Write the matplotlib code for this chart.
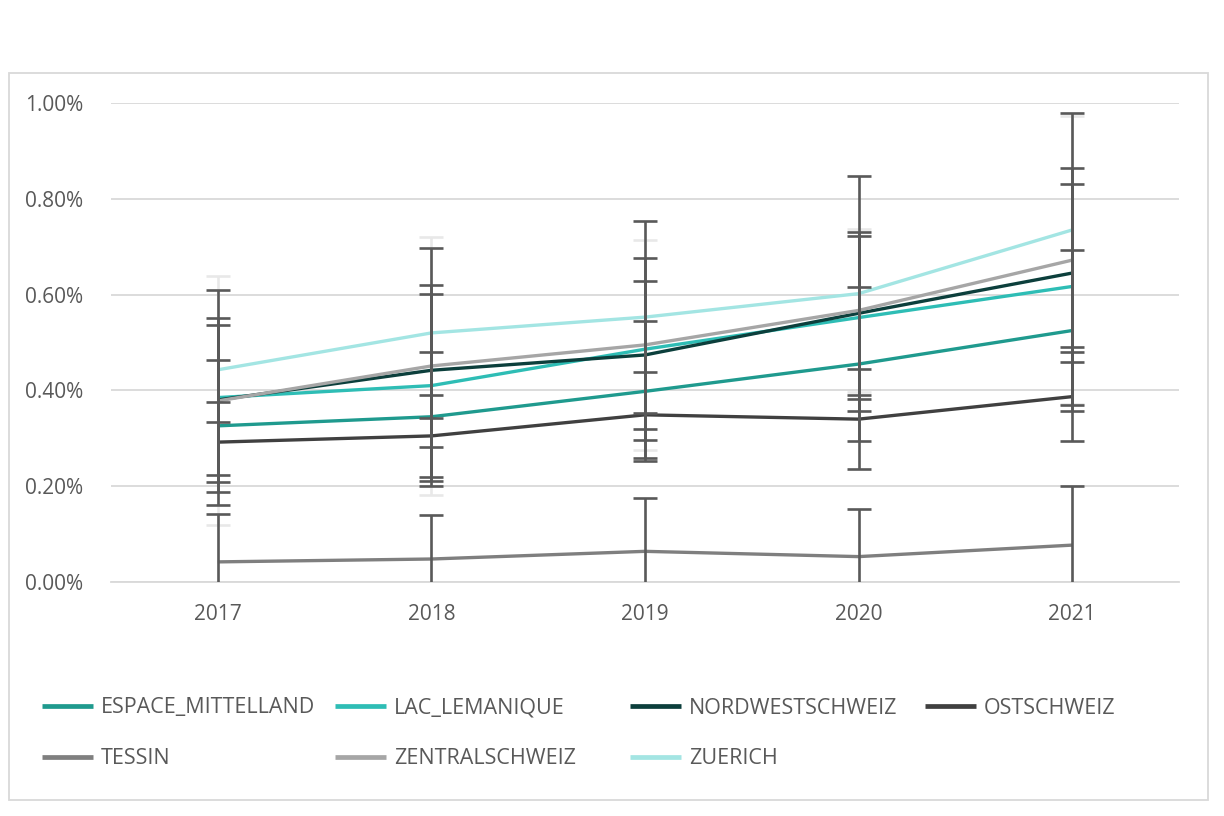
import matplotlib
matplotlib.use("Agg")
import matplotlib.pyplot as plt
from matplotlib.patches import Rectangle
from matplotlib.lines import Line2D
from matplotlib.ticker import FuncFormatter, MultipleLocator

plt.rcParams['font.family'] = ['Open Sans', 'DejaVu Sans']

years = ['2017', '2018', '2019', '2020', '2021']

series_names = ['ESPACE_MITTELLAND', 'LAC_LEMANIQUE', 'NORDWESTSCHWEIZ', 'OSTSCHWEIZ',
                'TESSIN', 'ZENTRALSCHWEIZ', 'ZUERICH']

espace_mittelland = [0.326, 0.345, 0.398, 0.455, 0.525]
lac_lemanique = [0.385, 0.410, 0.486, 0.552, 0.617]
nordwestschweiz = [0.380, 0.442, 0.474, 0.561, 0.645]
ostschweiz = [0.292, 0.305, 0.349, 0.340, 0.387]
tessin = [0.042, 0.048, 0.064, 0.053, 0.077]
zentralschweiz = [0.378, 0.451, 0.495, 0.567, 0.672]
zuerich = [0.443, 0.520, 0.553, 0.602, 0.735]

err_espace_mittelland = [0.138, 0.135, 0.146, 0.160, 0.168]
err_lac_lemanique = [0.225, 0.210, 0.190, 0.170, 0.247]
err_nordwestschweiz = [0.156, 0.160, 0.155, 0.170, 0.186]
err_ostschweiz = [0.084, 0.085, 0.090, 0.105, 0.093]
err_tessin = [0.100, 0.092, 0.112, 0.100, 0.123]
err_zentralschweiz = [0.260, 0.270, 0.220, 0.170, 0.300]
err_zuerich = [0.108, 0.177, 0.200, 0.246, 0.245]

values = [espace_mittelland, lac_lemanique, nordwestschweiz, ostschweiz,
          tessin, zentralschweiz, zuerich]
errors = [err_espace_mittelland, err_lac_lemanique, err_nordwestschweiz, err_ostschweiz,
          err_tessin, err_zentralschweiz, err_zuerich]
colors = ['#1f9a8e', '#2ebdb5', '#0c3f3c', '#404040', '#7f7f7f', '#a6a6a6', '#a3e5e3']
err_colors = ['#595959', '#595959', '#595959', '#595959', '#595959', '#e8e8e8', '#595959']

W, H = 1224, 816
fig = plt.figure(figsize=(W / 100, H / 100), dpi=100)
fig.patch.set_facecolor('white')

# outer chart border
fig.patches.append(Rectangle((9 / W, 1 - 800 / H), (1208 - 9) / W, (800 - 73) / H,
                             transform=fig.transFigure, fill=False,
                             edgecolor='#d9d9d9', linewidth=1.3))

ax = fig.add_axes([111 / W, 1 - 582 / H, (1179 - 111) / W, (582 - 103) / H])
x = list(range(len(years)))

for vals, errs, c, ec in zip(values, errors, colors, err_colors):
    ax.errorbar(x, vals, yerr=errs, fmt='none', ecolor=ec, elinewidth=1.9,
                capsize=8.5, capthick=1.9, zorder=4 if ec == '#595959' else 2)
for vals, c, name in zip(values, colors, series_names):
    ax.plot(x, vals, color=c, linewidth=2.4, solid_capstyle='butt', zorder=3, label=name)

ax.set_xlim(-0.5, len(years) - 0.5)
ax.set_ylim(0, 1.0)
ax.yaxis.set_major_locator(MultipleLocator(0.2))
ax.yaxis.set_major_formatter(FuncFormatter(lambda v, p: f'{v:.2f}%'))
ax.set_xticks(x)
ax.set_xticklabels(years)
ax.grid(axis='y', color='#d9d9d9', linewidth=1.3, zorder=0)
ax.set_axisbelow(True)
for s in ['top', 'right', 'left']:
    ax.spines[s].set_visible(False)
ax.spines['bottom'].set_color('#d9d9d9')
ax.spines['bottom'].set_linewidth(1.3)
ax.tick_params(axis='both', length=0, labelsize=15, colors='#595959')
ax.tick_params(axis='y', pad=20)
ax.tick_params(axis='x', pad=16)

# legend: 4 equal-width columns, 2 rows
handle_x = [42, 335, 630, 925]
row_y = [708, 759]
for i, (name, c) in enumerate(zip(series_names, colors)):
    r, col = divmod(i, 4)
    h = Line2D([0], [0], color=c, linewidth=3.4, solid_capstyle='butt')
    fig.legend(handles=[h], labels=[name], loc='center left',
               bbox_to_anchor=(handle_x[col] / W, 1 - row_y[r] / H),
               bbox_transform=fig.transFigure, frameon=False, borderpad=0,
               borderaxespad=0, handlelength=2.35, handletextpad=0.4,
               fontsize=15.5, labelcolor='#595959')

fig.savefig('out.png', dpi=100)
